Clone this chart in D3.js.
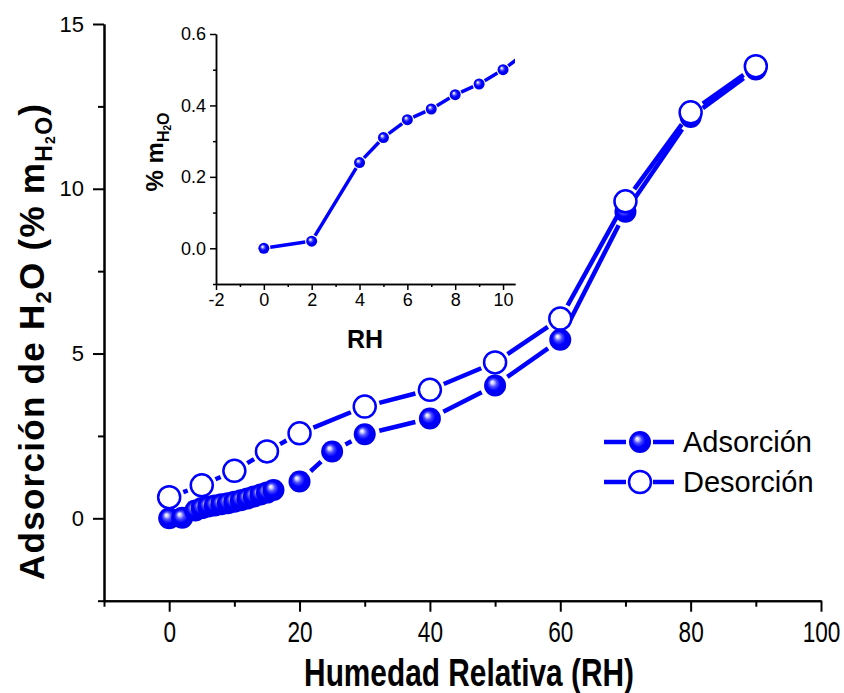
<!DOCTYPE html>
<html lang="es">
<head>
<meta charset="utf-8">
<title>Adsorción y desorción de H2O</title>
<script src="https://cdn.jsdelivr.net/npm/d3@7"></script>
<style>
  body { margin: 0; background: #fff; }
  svg { display: block; }
  .axis path, .axis line { stroke: #000; stroke-width: 2; }
  .axis text { fill: #000; font-family: "Liberation Sans", Arial, sans-serif; }
  .x.axis.main text { font-size: 29px; }
  .y.axis.main text { font-size: 22px; }
  .inset text { font-size: 18px; }
  .title { font-family: "Liberation Sans", Arial, sans-serif; font-weight: bold; fill: #000; text-anchor: middle; }
  .legend text { font-family: "Liberation Sans", Arial, sans-serif; font-size: 29px; fill: #000; }
  .seg { stroke: #0000ff; stroke-linecap: butt; }
</style>
</head>
<body>
<div id="chart"></div>
<script>
// data
var rhAds = [0, 2, 4, 5, 6, 7, 8, 9, 10, 11, 12, 13, 14, 15, 16, 20, 25, 30, 40, 50, 60, 70, 80, 90];
var adsorcion = [0, 0.02, 0.24, 0.31, 0.36, 0.39, 0.43, 0.46, 0.50, 0.55, 0.60, 0.66, 0.72, 0.78, 0.86, 1.12, 2.03, 2.55, 3.03, 4.03, 5.42, 9.30, 12.18, 13.62];
var rhDes = [0, 5, 10, 15, 20, 30, 40, 50, 60, 70, 80, 90];
var desorcion = [0.64, 1.0, 1.44, 2.03, 2.58, 3.39, 3.9, 4.73, 6.06, 9.62, 12.32, 13.72];

var xMajor = [0, 20, 40, 60, 80, 100], xMinor = [-10, 10, 30, 50, 70, 90];
var yMajor = [0, 5, 10, 15], yMinor = [-2.5, 2.5, 7.5, 12.5];
var inXMajor = [-2, 0, 2, 4, 6, 8, 10], inXMinor = [-1, 1, 3, 5, 7, 9];
var inYMajor = [0, 0.2, 0.4, 0.6], inYMinor = [-0.1, 0.1, 0.3, 0.5];
var seriesNames = ["Adsorción", "Desorción"];

var width = 844, height = 693;

var svg = d3.select("#chart").append("svg")
    .attr("width", width)
    .attr("height", height);

var defs = svg.append("defs");
var grad = defs.append("radialGradient")
    .attr("id", "ball")
    .attr("cx", "50%").attr("cy", "50%").attr("r", "55%")
    .attr("fx", "36%").attr("fy", "34%");
grad.append("stop").attr("offset", "0%").attr("stop-color", "#ffffff");
grad.append("stop").attr("offset", "12%").attr("stop-color", "#d8d8ff");
grad.append("stop").attr("offset", "32%").attr("stop-color", "#4d4dff");
grad.append("stop").attr("offset", "55%").attr("stop-color", "#0000ff");
grad.append("stop").attr("offset", "100%").attr("stop-color", "#0000e6");

// main scales
var x = d3.scaleLinear().domain([-10, 100]).range([104, 821]);
var y = d3.scaleLinear().domain([-2.5, 15]).range([600.7, 24]);

// inset scales
var xi = d3.scaleLinear().domain([-2, 10.5]).range([216, 515]);
var yi = d3.scaleLinear().domain([-0.1, 0.6]).range([284, 34]);

function drawSeries(g, xs, ys, sx, sy, o) {
    var pts = xs.map(function(d, i) { return [sx(d), sy(ys[i])]; });
    var segs = [];
    var cut = o.r + o.gap;
    for (var i = 0; i < pts.length - 1; i++) {
        var a = pts[i], b = pts[i + 1];
        var dx = b[0] - a[0], dy = b[1] - a[1];
        var len = Math.sqrt(dx * dx + dy * dy);
        if (len <= 2 * cut) continue;
        var ux = dx / len, uy = dy / len;
        segs.push([a[0] + ux * cut, a[1] + uy * cut, b[0] - ux * cut, b[1] - uy * cut]);
    }
    g.selectAll(null).data(segs).enter().append("line")
        .attr("class", "seg")
        .attr("x1", function(d) { return d[0]; })
        .attr("y1", function(d) { return d[1]; })
        .attr("x2", function(d) { return d[2]; })
        .attr("y2", function(d) { return d[3]; })
        .attr("stroke-width", o.lw);
    g.selectAll(null).data(pts).enter().append("circle")
        .attr("cx", function(d) { return d[0]; })
        .attr("cy", function(d) { return d[1]; })
        .attr("r", o.r)
        .attr("fill", o.open ? "#fff" : "url(#ball)")
        .attr("stroke", o.open ? "#0000ff" : "none")
        .attr("stroke-width", o.open ? 2.5 : 0);
}

var plain = function(d) { return String(d); };

// ---- main axes
svg.append("g").attr("class", "x axis main")
    .attr("transform", "translate(0," + y(-2.5) + ")")
    .call(d3.axisBottom(x).tickValues(xMajor).tickSize(11).tickPadding(10).tickFormat(plain).tickSizeOuter(0))
    .selectAll("text").attr("transform", "scale(0.78,1)");
svg.append("g").attr("class", "x axis")
    .attr("transform", "translate(0," + y(-2.5) + ")")
    .call(d3.axisBottom(x).tickValues(xMinor).tickSize(6).tickFormat("").tickSizeOuter(0));
svg.append("g").attr("class", "y axis main")
    .attr("transform", "translate(" + x(-10) + ",0)")
    .call(d3.axisLeft(y).tickValues(yMajor).tickSize(11).tickPadding(9).tickFormat(plain).tickSizeOuter(0));
svg.append("g").attr("class", "y axis")
    .attr("transform", "translate(" + x(-10) + ",0)")
    .call(d3.axisLeft(y).tickValues(yMinor).tickSize(6).tickFormat("").tickSizeOuter(0));

// main series
var plotMain = svg.append("g");
drawSeries(plotMain.append("g"), rhAds, adsorcion, x, y, {r: 11, gap: 4, lw: 4.5, open: false});
drawSeries(plotMain.append("g"), rhDes, desorcion, x, y, {r: 11, gap: 4, lw: 4.5, open: true});

// main titles
var yt = svg.append("text").attr("class", "title")
    .attr("transform", "translate(44,342) rotate(-90)")
    .attr("textLength", 476)
    .attr("lengthAdjust", "spacing")
    .style("font-size", "35px");
yt.append("tspan").text("Adsorción de H");
yt.append("tspan").attr("font-size", "22px").attr("dy", 7).text("2");
yt.append("tspan").attr("dy", -7).text("O (% m");
yt.append("tspan").attr("font-size", "23px").attr("dy", 8).text("H");
yt.append("tspan").attr("font-size", "14px").attr("dy", 3).text("2");
yt.append("tspan").attr("font-size", "23px").attr("dy", -3).text("O");
yt.append("tspan").attr("dy", -8).text(")");

svg.append("text").attr("class", "title")
    .attr("transform", "translate(469,686) scale(0.785,1)")
    .style("font-size", "38px")
    .text("Humedad Relativa (RH)");

// ---- inset
var inset = svg.append("g").attr("class", "inset");
defs.append("clipPath").attr("id", "insetClip")
    .append("rect").attr("x", xi(-2)).attr("y", yi(0.6) - 10)
    .attr("width", xi(10.5) - xi(-2)).attr("height", yi(-0.1) - yi(0.6) + 10);

inset.append("g").attr("class", "x axis")
    .attr("transform", "translate(0," + yi(-0.1) + ")")
    .call(d3.axisBottom(xi).tickValues(inXMajor).tickSize(6).tickPadding(3).tickFormat(plain).tickSizeOuter(0));
inset.append("g").attr("class", "x axis")
    .attr("transform", "translate(0," + yi(-0.1) + ")")
    .call(d3.axisBottom(xi).tickValues(inXMinor).tickSize(3).tickFormat("").tickSizeOuter(0));
inset.append("g").attr("class", "y axis")
    .attr("transform", "translate(" + xi(-2) + ",0)")
    .call(d3.axisLeft(yi).tickValues(inYMajor).tickSize(6).tickPadding(4).tickFormat(d3.format(".1f")).tickSizeOuter(0));
inset.append("g").attr("class", "y axis")
    .attr("transform", "translate(" + xi(-2) + ",0)")
    .call(d3.axisLeft(yi).tickValues(inYMinor).tickSize(3).tickFormat("").tickSizeOuter(0));
inset.selectAll(".axis path, .axis line").style("stroke-width", 1.5);

drawSeries(inset.append("g").attr("clip-path", "url(#insetClip)"),
    rhAds, adsorcion, xi, yi, {r: 5.5, gap: 1, lw: 3.5, open: false});

var it = inset.append("text").attr("class", "title")
    .attr("transform", "translate(163,152) rotate(-90)")
    .style("font-size", "24px");
it.append("tspan").text("% m");
it.append("tspan").attr("font-size", "16px").attr("dy", 6).text("H");
it.append("tspan").attr("font-size", "10px").attr("dy", 2).text("2");
it.append("tspan").attr("font-size", "16px").attr("dy", -2).text("O");

inset.append("text").attr("class", "title")
    .attr("x", 365).attr("y", 348)
    .style("font-size", "25px")
    .text("RH");

// ---- legend
var legend = svg.append("g").attr("class", "legend");
var rows = legend.selectAll("g").data(seriesNames).enter().append("g")
    .attr("transform", function(d, i) { return "translate(0," + (442 + i * 40) + ")"; });
rows.append("line").attr("class", "seg").attr("x1", 604).attr("x2", 626).attr("stroke-width", 4.5);
rows.append("line").attr("class", "seg").attr("x1", 653).attr("x2", 674).attr("stroke-width", 4.5);
rows.append("circle").attr("cx", 640).attr("r", 11)
    .attr("fill", function(d, i) { return i === 0 ? "url(#ball)" : "#fff"; })
    .attr("stroke", function(d, i) { return i === 0 ? "none" : "#0000ff"; })
    .attr("stroke-width", 2.5);
rows.append("text").attr("x", 683).attr("y", 10).text(function(d) { return d; });
</script>
</body>
</html>
